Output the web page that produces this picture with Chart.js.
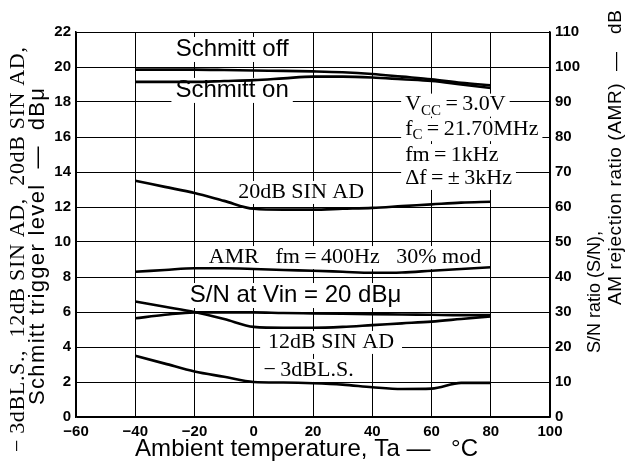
<!DOCTYPE html>
<html>
<head>
<meta charset="utf-8">
<script src="https://cdn.jsdelivr.net/npm/chart.js@4/dist/chart.umd.min.js"></script>
<style>
  body { margin: 0; background: #fff; }
</style>
</head>
<body>
<canvas id="tempChart" width="627" height="468"></canvas>
<script>
// ambient temperature, degC
const temps = [-40, -30, -20, -10, 0, 10, 20, 30, 40, 50, 60, 70, 80];

// left axis, dBu
const schmittOff = [19.85, 19.85, 19.85, 19.83, 19.8, 19.78, 19.75, 19.7, 19.6, 19.45, 19.3, 19.1, 18.95];
const schmittOn = [19.15, 19.15, 19.15, 19.2, 19.25, 19.35, 19.45, 19.45, 19.4, 19.3, 19.2, 19.0, 18.8];
const sinad20 = [13.5, 13.15, 12.8, 12.35, 11.9, 11.85, 11.85, 11.9, 11.95, 12.05, 12.15, 12.25, 12.3];
const sinad12 = [6.6, 6.3, 6.0, 5.6, 5.15, 5.1, 5.1, 5.15, 5.25, 5.35, 5.45, 5.6, 5.75];
const limSens = [3.5, 3.05, 2.6, 2.3, 2.0, 1.97, 1.93, 1.85, 1.7, 1.6, 1.62, 1.95, 1.95];

// right axis, dB
const amr = [41.5, 42, 42.5, 42.5, 42.3, 42, 41.8, 41.5, 41.2, 41.3, 41.8, 42.3, 42.8];
const snRatio = [28.2, 29.2, 29.9, 29.9, 29.9, 29.7, 29.6, 29.5, 29.4, 29.3, 29.2, 29.1, 29.1];

// tick values
const xTickValues = [-60, -40, -20, 0, 20, 40, 60, 80, 100];
const leftTickValues = [0, 2, 4, 6, 8, 10, 12, 14, 16, 18, 20, 22];
const rightTickValues = [0, 10, 20, 30, 40, 50, 60, 70, 80, 90, 100, 110];

const SANS = '"Liberation Sans", Arial, sans-serif';
const SERIF = '"Liberation Serif", "Times New Roman", serif';
const EQ = '\u2009=\u2009';

// in-plot labels, placed in data units (x = degC, y = left axis)
const plotLabels = [
  { parts: [{ t: 'Schmitt off' }], x: -7.3, y: 21.03, font: '24px ' + SANS, align: 'center' },
  { parts: [{ t: 'Schmitt on' }], x: -7.3, y: 18.69, font: '24px ' + SANS, align: 'center' },
  { parts: [{ t: 'V' }, { t: 'CC', sub: true }, { t: EQ + '3.0V' }], x: 51.1, y: 17.85, font: '22px ' + SERIF, align: 'left' },
  { parts: [{ t: 'f' }, { t: 'C', sub: true }, { t: EQ + '21.70MHz' }], x: 51.1, y: 16.45, font: '22px ' + SERIF, align: 'left' },
  { parts: [{ t: 'fm' + EQ + '1kHz' }], x: 51.1, y: 14.97, font: '22px ' + SERIF, align: 'left' },
  { parts: [{ t: 'Δf' + EQ + '±\u20093kHz' }], x: 51.1, y: 13.66, font: '22px ' + SERIF, align: 'left' },
  { parts: [{ t: '20dB SIN AD' }], x: 16.0, y: 12.86, font: '22px ' + SERIF, align: 'center' },
  { parts: [{ t: 'AMR   fm' + EQ + '400Hz   30% mod' }], x: 30.8, y: 9.14, font: '22px ' + SERIF, align: 'center' },
  { parts: [{ t: 'S/N at Vin = 20 dBμ' }], x: 14.1, y: 6.97, font: '24px ' + SANS, align: 'center' },
  { parts: [{ t: '12dB SIN AD' }], x: 26.1, y: 4.29, font: '22px ' + SERIF, align: 'center', padX: 8 },
  { parts: [{ t: '−\u20093dBL.S.' }], x: 18.5, y: 2.69, font: '22px ' + SERIF, align: 'center' }
];

// axis titles: text, font, centre line, start and end along the text (pixels)
const axisTitles = [
  { t: '−\u20093dBL.S.,  12dB SIN AD,  20dB SIN AD,', font: '22px ' + SERIF, at: 18, from: 452, to: 47, rotate: true },
  { t: 'Schmitt trigger level  —  dBμ', font: '22px ' + SANS, at: 38, from: 405, to: 88, rotate: true },
  { t: 'S/N ratio (S/N),', font: '18px ' + SANS, at: 595, from: 353, to: 233, rotate: true },
  { t: 'AM rejection ratio (AMR)  —   dB', font: '19px ' + SANS, at: 616, from: 305, to: 10, rotate: true },
  { t: 'Ambient temperature, Ta —   °C', font: '24px ' + SANS, at: 449, from: 135, to: 478, rotate: false }
];

function subFont(label) {
  const size = parseFloat(label.font);
  return label.font.replace(/^[\d.]+px/, Math.round(size * 0.7) + 'px');
}

function partsWidth(ctx, label) {
  let w = 0;
  label.parts.forEach(p => {
    ctx.font = p.sub ? subFont(label) : label.font;
    w += ctx.measureText(p.t).width;
  });
  return w;
}

const labelPlugin = {
  id: 'plotLabels',
  beforeDatasetsDraw(chart) {
    const ctx = chart.ctx;
    const xs = chart.scales.x, ys = chart.scales.y;
    ctx.save();
    plotLabels.forEach(label => {
      const size = parseFloat(label.font);
      const w = partsWidth(ctx, label);
      const cx = xs.getPixelForValue(label.x);
      const cy = ys.getPixelForValue(label.y);
      const left = label.align === 'center' ? cx - w / 2 : cx;
      const padX = label.padX || 4;
      ctx.fillStyle = '#fff';
      ctx.fillRect(left - padX, cy - size / 2, w + padX * 2, size + 1);
      ctx.fillStyle = '#000';
      ctx.textBaseline = 'middle';
      ctx.textAlign = 'left';
      let px = left;
      label.parts.forEach(p => {
        if (p.sub) {
          ctx.font = subFont(label);
          ctx.fillText(p.t, px, cy + size * 0.28);
        } else {
          ctx.font = label.font;
          ctx.fillText(p.t, px, cy);
        }
        px += ctx.measureText(p.t).width;
      });
    });
    ctx.restore();
  }
};

const titlePlugin = {
  id: 'axisTitles',
  afterDraw(chart) {
    const ctx = chart.ctx;
    axisTitles.forEach(a => {
      ctx.save();
      ctx.font = a.font;
      const len = Math.abs(a.to - a.from);
      const gap = (len - ctx.measureText(a.t).width) / Math.max(1, a.t.length - 1);
      ctx.letterSpacing = Math.max(0, gap).toFixed(2) + 'px';
      ctx.fillStyle = '#000';
      ctx.textAlign = 'left';
      ctx.textBaseline = 'middle';
      if (a.rotate) {
        ctx.translate(a.at, a.from);
        ctx.rotate(-Math.PI / 2);
        ctx.fillText(a.t, 0, 0);
      } else {
        ctx.fillText(a.t, a.from, a.at);
      }
      ctx.restore();
    });
  }
};

function line(data, axis) {
  return {
    data: temps.map((t, i) => ({ x: t, y: data[i] })),
    yAxisID: axis,
    borderColor: '#000',
    borderWidth: 2.6,
    pointRadius: 0,
    fill: false,
    cubicInterpolationMode: 'monotone'
  };
}

const tickFont = { family: '"Liberation Sans", Arial, sans-serif', weight: 'bold', size: 15 };
const fmt = v => String(v).replace('-', '−');

new Chart(document.getElementById('tempChart'), {
  type: 'line',
  data: {
    datasets: [
      line(schmittOff, 'y'),
      line(schmittOn, 'y'),
      line(sinad20, 'y'),
      line(amr, 'y2'),
      line(snRatio, 'y2'),
      line(sinad12, 'y'),
      line(limSens, 'y')
    ]
  },
  options: {
    responsive: false,
    animation: false,
    devicePixelRatio: 1,
    layout: { padding: { top: 32, left: 0, right: 0, bottom: 0 } },
    plugins: { legend: { display: false }, tooltip: { enabled: false } },
    scales: {
      x: {
        type: 'linear',
        min: -60, max: 100,
        afterBuildTicks: s => { s.ticks = xTickValues.map(v => ({ value: v })); },
        afterFit: s => { s.height = 51; },
        grid: { color: '#000', lineWidth: 1, drawTicks: false },
        border: { color: '#000', width: 1.5 },
        ticks: { color: '#000', font: tickFont, padding: 6, maxRotation: 0, callback: fmt }
      },
      y: {
        position: 'left',
        min: 0, max: 22,
        afterBuildTicks: s => { s.ticks = leftTickValues.map(v => ({ value: v })); },
        afterFit: s => { s.width = 76; },
        grid: { color: '#000', lineWidth: 1, drawTicks: false },
        border: { color: '#000', width: 1.5 },
        ticks: { color: '#000', font: tickFont, padding: 5, callback: fmt }
      },
      y2: {
        position: 'right',
        min: 0, max: 110,
        afterBuildTicks: s => { s.ticks = rightTickValues.map(v => ({ value: v })); },
        afterFit: s => { s.width = 77; },
        grid: { display: false, drawTicks: false },
        border: { color: '#000', width: 1.5 },
        ticks: { color: '#000', font: tickFont, padding: 5 }
      }
    }
  },
  plugins: [labelPlugin, titlePlugin]
});
</script>
</body>
</html>
